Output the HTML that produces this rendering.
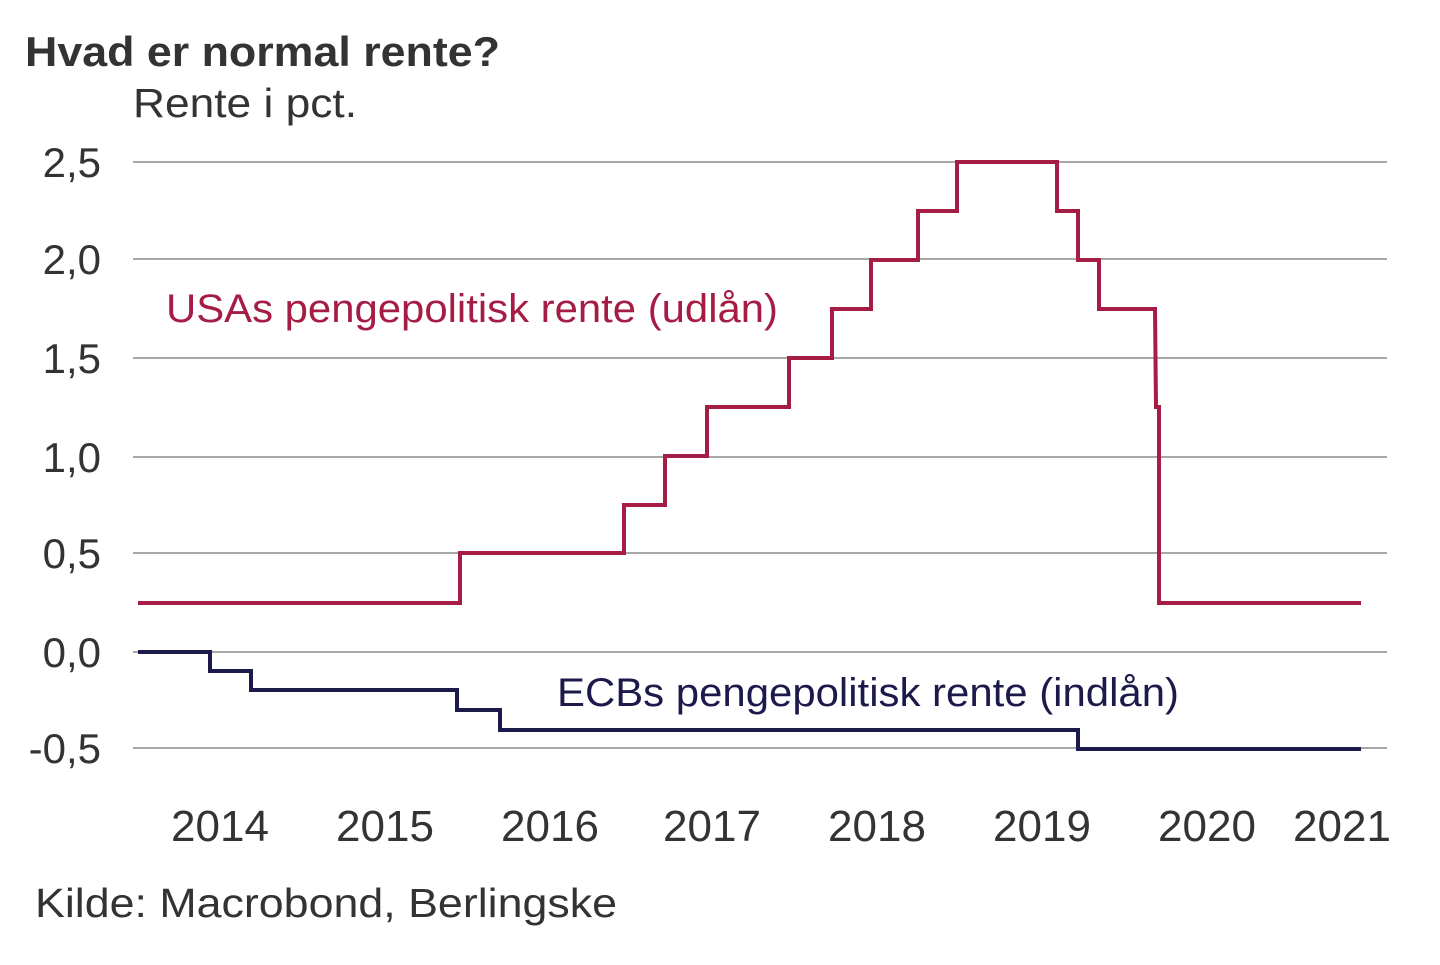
<!DOCTYPE html>
<html><head><meta charset="utf-8"><style>html,body{margin:0;padding:0;background:#fff}</style></head>
<body>
<svg width="1440" height="960" xmlns="http://www.w3.org/2000/svg" font-family="Liberation Sans, Arial, sans-serif">
<rect width="1440" height="960" fill="#fff"/>
<text x="25" y="66" font-size="42" font-weight="bold" fill="#333" textLength="475" lengthAdjust="spacingAndGlyphs">Hvad er normal rente?</text>
<text x="133" y="117" font-size="41" fill="#333" textLength="224" lengthAdjust="spacingAndGlyphs">Rente i pct.</text>
<g stroke="#8c8c8c" stroke-width="1.5">
<line x1="133" x2="1387" y1="162" y2="162"/>
<line x1="133" x2="1387" y1="259" y2="259"/>
<line x1="133" x2="1387" y1="358" y2="358"/>
<line x1="133" x2="1387" y1="457" y2="457"/>
<line x1="133" x2="1387" y1="553" y2="553"/>
<line x1="133" x2="1387" y1="652" y2="652"/>
<line x1="133" x2="1387" y1="748" y2="748"/>
</g>
<g font-size="42" fill="#333" text-anchor="end">
<text x="101" y="177">2,5</text>
<text x="101" y="274">2,0</text>
<text x="101" y="373">1,5</text>
<text x="101" y="472">1,0</text>
<text x="101" y="568">0,5</text>
<text x="101" y="667">0,0</text>
<text x="101" y="763">-0,5</text>
</g>
<g font-size="44" fill="#333" text-anchor="middle">
<text x="220" y="841">2014</text>
<text x="385" y="841">2015</text>
<text x="550" y="841">2016</text>
<text x="712" y="841">2017</text>
<text x="877" y="841">2018</text>
<text x="1042" y="841">2019</text>
<text x="1207" y="841">2020</text>
<text x="1342" y="841">2021</text>
</g>
<polyline fill="none" stroke="#a51c45" stroke-width="4" points="138,603 460,603 460,553 624,553 624,505 665,505 665,456 707,456 707,407 789,407 789,358 832,358 832,309 871,309 871,260 918,260 918,211 957,211 957,162 1057,162 1057,211 1078,211 1078,260 1099,260 1099,309 1155,309 1156,407 1159,407 1159,603 1361,603"/>
<polyline fill="none" stroke="#1c1a4a" stroke-width="4" points="138,652 210,652 210,671 251,671 251,690 457,690 457,710 500,710 500,730 1078,730 1078,749 1361,749"/>
<text x="166" y="322" font-size="40" fill="#a51c45" textLength="612" lengthAdjust="spacingAndGlyphs">USAs pengepolitisk rente (udlån)</text>
<text x="557" y="706" font-size="40" fill="#1c1a4a" textLength="622" lengthAdjust="spacingAndGlyphs">ECBs pengepolitisk rente (indlån)</text>
<text x="35" y="917" font-size="41" fill="#333" textLength="582" lengthAdjust="spacingAndGlyphs">Kilde: Macrobond, Berlingske</text>
</svg>
</body></html>
